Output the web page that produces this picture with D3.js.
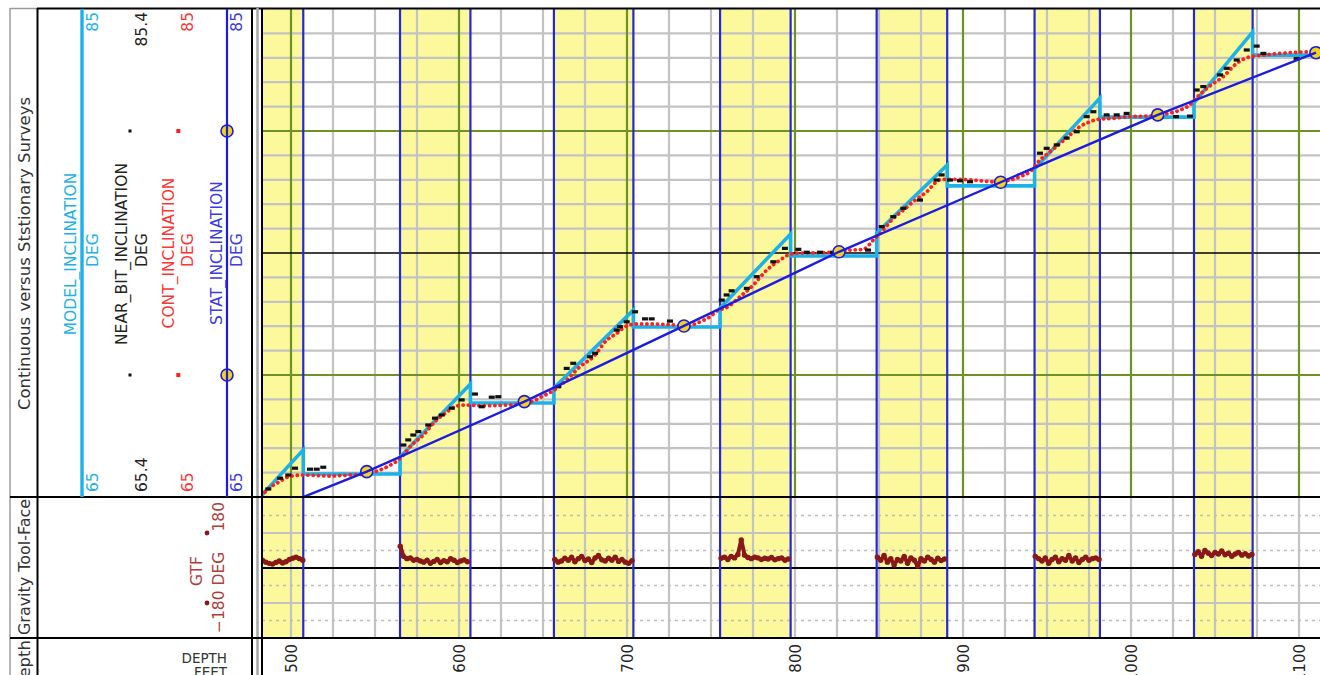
<!DOCTYPE html>
<html>
<head>
<meta charset="utf-8">
<script src="https://cdn.jsdelivr.net/npm/d3@7"></script>
<style>
  html, body { margin: 0; padding: 0; background: #fff; overflow: hidden; }
  svg { display: block; font-family: "DejaVu Sans", sans-serif; }
</style>
</head>
<body>
<svg id="log" width="1320" height="675"></svg>
<script>
// ---- Depth axis (feet) ----
const depthTicks = [500, 600, 700, 800, 900, 1000, 1100];

// ---- Slide intervals (yellow bands), depth in feet ----
const slideStart = [475, 564.9, 656.5, 755.4, 848.6, 942.6, 1037.5];
const slideEnd   = [507.3, 606.8, 703.8, 797.4, 890.6, 981.5, 1072.4];

// ---- Stationary surveys ----
const statDepth = [451, 545.1, 638.9, 733.9, 826.2, 922.4, 1015.9, 1110.1];
const statInc   = [63.45, 66.04, 68.91, 72.01, 75.05, 77.90, 80.66, 83.21];

// ---- Model inclination (vertices) ----
const modelDepth = [480, 507.3, 507.3, 564.9, 564.9, 606.8, 606.8, 656.5, 656.5, 703.8, 703.8,
  755.4, 755.4, 797.4, 797.4, 848.6, 848.6, 890.6, 890.6, 942.6, 942.6, 981.5, 981.5,
  1037.5, 1037.5, 1072.4, 1072.4, 1125];
const modelInc = [64.88, 66.93, 65.94, 65.94, 66.64, 69.63, 68.85, 68.85, 69.47, 72.66, 71.97,
  71.97, 72.75, 75.78, 74.88, 74.88, 75.82, 78.61, 77.75, 77.75, 78.44, 81.35, 80.57,
  80.57, 81.15, 84.06, 83.11, 83.11];

// ---- Continuous inclination ----
const contDepth = [484.5, 488.7, 493, 498.2, 506.5, 515, 523.2, 535, 544, 553, 559, 563.1,
  565.9, 571.8, 578.8, 585.7, 591.7, 597.6, 603.6, 613.5, 629.3, 643.3, 649.2, 655.2,
  664.1, 672.0, 680.0, 688.0, 693.9, 699.8, 705.8, 715.7, 727.6, 735.5, 743.5, 749.4, 754.3,
  758.3, 767.3, 775.2, 783.2, 791.1, 796.0, 801.0, 812.9, 822.8, 832.7, 840.7,
  846.6, 851.6, 858.5, 864.5, 870.4, 878.4, 886.3, 892.3, 904.2, 918.0, 928.0, 933.9, 939.9,
  945.8, 951.8, 957.7, 963.7, 969.6, 975.6, 980.5, 989.5, 999.4, 1009.3, 1023.2, 1029.2, 1035.1,
  1039.1, 1047.0, 1054.9, 1062.9, 1070.8, 1078.8, 1094.6, 1108.5];
const contInc = [65.20, 65.45, 65.62, 65.82, 65.90, 65.88, 65.86, 65.90, 65.94, 66.11, 66.30, 66.48,
  66.65, 67.13, 67.54, 68.09, 68.43, 68.70, 68.77, 68.74, 68.77, 68.91, 69.11, 69.32,
  69.80, 70.34, 70.75, 71.43, 71.71, 72.01, 72.09, 72.09, 72.05, 72.01, 72.18, 72.39, 72.66,
  72.73, 73.21, 73.69, 74.30, 74.71, 74.92, 74.99, 75.01, 75.03, 75.12, 75.15,
  75.53, 75.87, 76.42, 76.76, 77.10, 77.51, 78.00, 78.02, 78.00, 77.92, 77.99, 78.13, 78.33,
  78.81, 79.15, 79.49, 79.84, 80.18, 80.38, 80.48, 80.52, 80.59, 80.61, 80.73, 80.86, 81.07,
  81.37, 81.85, 82.23, 82.77, 83.04, 83.11, 83.21, 83.25];

// ---- Near-bit inclination (scale 65.4 - 85.4) ----
const nbDepth = [486.5, 493.5, 498.4, 502.4, 511.3, 515.3, 519.2,
  566.9, 569.8, 572.8, 575.8, 581.7, 585.7, 589.7, 595.7, 601.6, 609.5, 613.5, 619.5, 623.4,
  659.1, 664.1, 668.0, 678.0, 681.0, 693.9, 695.8, 699.8, 704.8, 710.7, 714.7, 725.6,
  756.4, 759.3, 762.3, 771.3, 777.2, 787.1, 794.0, 802.0, 807.0, 814.9, 822.6,
  843.5, 851.6, 858.5, 864.5, 874.4, 884.3, 887.3, 892.3, 898.2, 904.2,
  945.8, 949.8, 955.8, 961.7, 967.7, 973.6, 977.6, 985.5, 991.5, 997.4,
  1026.8, 1035.1, 1039.1, 1043.0, 1053.0, 1057.0, 1062.9, 1068.9, 1074.8, 1078.8, 1098.6];
const nbInc = [65.73, 66.17, 66.30, 66.58, 66.54, 66.54, 66.62,
  67.53, 67.74, 67.94, 68.08, 68.35, 68.63, 68.76, 69.04, 69.38, 69.62, 69.10, 69.49, 69.51,
  69.92, 70.67, 70.88, 71.15, 71.29, 72.24, 72.38, 72.58, 72.99, 72.70, 72.70, 72.61,
  73.47, 73.68, 73.85, 73.95, 74.43, 75.04, 75.59, 75.55, 75.43, 75.43, 75.43,
  75.52, 76.48, 76.89, 77.23, 77.57, 78.39, 78.60, 78.39, 78.36, 78.32,
  79.49, 79.69, 79.83, 80.11, 80.37, 80.99, 81.19, 81.06, 81.06, 81.12,
  80.99, 81.01, 82.08, 82.22, 82.70, 82.97, 83.31, 83.72, 83.88, 83.58, 83.37];

// ---- Gravity tool-face while sliding, sampled every 2 ft ----
const gtfStep = 2;
const gtfStart = [483, 565, 657, 756, 849, 943, 1038];
const gtfValues = [
  [20, 15, 12, 10, 14, 18, 13, 16, 22, 25, 28, 24, 20],
  [56, 30, 24, 26, 20, 22, 18, 15, 20, 12, 17, 22, 14, 19, 16, 24, 20, 14, 18, 21, 16],
  [22, 15, 18, 25, 20, 28, 16, 24, 30, 19, 23, 14, 26, 32, 21, 18, 25, 20, 28, 17, 22, 15, 12, 19],
  [25, 28, 22, 30, 26, 35, 72, 33, 27, 24, 28, 26, 22, 25, 23, 27, 21, 24, 26, 20, 23],
  [28, 20, 32, 15, 24, 8, 22, 18, 30, 12, 26, 20, 5, 24, 18, 28, 22, 15, 25, 19, 23],
  [30, 24, 18, 26, 12, 22, 28, 16, 24, 20, 32, 18, 26, 14, 22, 28, 20, 24, 26, 22],
  [35, 42, 30, 45, 38, 32, 40, 36, 44, 34, 38, 30, 36, 40, 33, 37, 31, 35]
];

// ---- Layout ----
const PL = 262, PR = 1320, TOP = 9, MID = 497, LOW = 638, BOT = 675;

const x = d3.scaleLinear().domain([500, 1100]).range([291, 1299]);
const yInc = d3.scaleLinear().domain([65, 85]).range([MID, TOP]);
const yNb = d3.scaleLinear().domain([65.4, 85.4]).range([MID, TOP]);
const yGtf = d3.scaleLinear().domain([-180, 180]).range([LOW, MID + 1]);

const C = {
  yellow: "#fcf99c", grid: "#c3c3c3", green: "#6e9324", blue: "#2626dc",
  cyan: "#1cb2e8", red: "#ff1f1f", black: "#111", gtf: "#8a1818", gtfText: "#b03c3c",
  statBlue: "#1c1ce0", marker: "#f4d21a"
};

const svg = d3.select("#log");
svg.append("rect").attr("width", 1320).attr("height", 675).attr("fill", "#fff");

const defs = svg.append("defs");
function clip(id, y0, y1) {
  defs.append("clipPath").attr("id", id).append("rect")
    .attr("x", PL).attr("y", y0).attr("width", PR - PL).attr("height", y1 - y0);
}
clip("cTrack", TOP, LOW);
clip("cInc", TOP, MID);
clip("cGtf", MID, LOW);
clip("cDepth", LOW, BOT);

// ---- Slide bands ----
const bands = svg.append("g").attr("clip-path", "url(#cTrack)");
bands.selectAll("rect").data(slideStart).join("rect")
  .attr("x", (d) => x(d)).attr("y", TOP)
  .attr("width", (d, i) => x(slideEnd[i]) - x(d)).attr("height", LOW - TOP)
  .attr("fill", C.yellow);

// ---- Grid ----
const depthGrid = d3.range(475, 1126, 25);
const gInc = svg.append("g").attr("clip-path", "url(#cInc)");
const gGtf = svg.append("g").attr("clip-path", "url(#cGtf)");

gInc.selectAll("line.vmin").data(depthGrid.filter((d) => d % 100 !== 0)).join("line")
  .attr("x1", (d) => x(d)).attr("x2", (d) => x(d)).attr("y1", TOP).attr("y2", MID)
  .attr("stroke", C.grid).attr("stroke-width", 2.2);
const incGrid = d3.range(66, 85);
gInc.selectAll("line.hmin").data(incGrid.filter((v) => v % 5 !== 0)).join("line")
  .attr("x1", PL).attr("x2", PR).attr("y1", (v) => yInc(v)).attr("y2", (v) => yInc(v))
  .attr("stroke", C.grid).attr("stroke-width", 2.2);
gInc.selectAll("line.vmaj").data(depthGrid.filter((d) => d % 100 === 0)).join("line")
  .attr("x1", (d) => x(d)).attr("x2", (d) => x(d)).attr("y1", TOP).attr("y2", MID)
  .attr("stroke", C.green).attr("stroke-width", 2.2);
gInc.selectAll("line.hmaj").data([70, 80]).join("line")
  .attr("x1", PL).attr("x2", PR).attr("y1", (v) => yInc(v)).attr("y2", (v) => yInc(v))
  .attr("stroke", C.green).attr("stroke-width", 2.2);
gInc.append("line").attr("x1", PL).attr("x2", PR)
  .attr("y1", yInc(75)).attr("y2", yInc(75)).attr("stroke", "#000").attr("stroke-width", 1.6);

gGtf.selectAll("line.v").data(depthGrid).join("line")
  .attr("x1", (d) => x(d)).attr("x2", (d) => x(d)).attr("y1", MID).attr("y2", LOW)
  .attr("stroke", C.grid).attr("stroke-width", 2.2);
gGtf.selectAll("line.dot").data([-135, -45, 45, 135]).join("line")
  .attr("x1", PL).attr("x2", PR).attr("y1", (v) => yGtf(v)).attr("y2", (v) => yGtf(v))
  .attr("stroke", "#bdbdbd").attr("stroke-width", 1.5).attr("stroke-dasharray", "3,4");
gGtf.selectAll("line.sol").data([-90, 90]).join("line")
  .attr("x1", PL).attr("x2", PR).attr("y1", (v) => yGtf(v)).attr("y2", (v) => yGtf(v))
  .attr("stroke", C.grid).attr("stroke-width", 2.2);
gGtf.append("line").attr("x1", PL).attr("x2", PR)
  .attr("y1", yGtf(0)).attr("y2", yGtf(0)).attr("stroke", "#000").attr("stroke-width", 2);

// ---- Slide boundaries ----
const edges = slideStart.concat(slideEnd);
svg.append("g").attr("clip-path", "url(#cTrack)")
  .selectAll("line").data(edges).join("line")
  .attr("x1", (d) => x(d)).attr("x2", (d) => x(d)).attr("y1", TOP).attr("y2", LOW)
  .attr("stroke", C.blue).attr("stroke-width", 2.2);

// ---- Inclination curves ----
const curves = svg.append("g").attr("clip-path", "url(#cInc)");

const modelLine = d3.line().x((i) => x(modelDepth[i])).y((i) => yInc(modelInc[i]));
curves.append("path").attr("d", modelLine(d3.range(modelDepth.length)))
  .attr("fill", "none").attr("stroke", C.cyan).attr("stroke-width", 3.6)
  .attr("stroke-linejoin", "miter");

const contLine = d3.line().x((i) => x(contDepth[i])).y((i) => yInc(contInc[i]))
  .curve(d3.curveMonotoneX);
curves.append("path").attr("d", contLine(d3.range(contDepth.length)))
  .attr("fill", "none").attr("stroke", C.red).attr("stroke-width", 3.8)
  .attr("stroke-linecap", "round").attr("stroke-dasharray", "0.1,5.2");

curves.selectAll("rect.nb").data(d3.range(nbDepth.length)).join("rect")
  .attr("x", (i) => x(nbDepth[i]) - 3).attr("y", (i) => yNb(nbInc[i]) - 1.6)
  .attr("width", 6).attr("height", 3.2).attr("fill", C.black);

const statLine = d3.line().x((i) => x(statDepth[i])).y((i) => yInc(statInc[i]));
curves.selectAll("circle.stat").data(d3.range(statDepth.length)).join("circle")
  .attr("cx", (i) => x(statDepth[i])).attr("cy", (i) => yInc(statInc[i])).attr("r", 6)
  .attr("fill", C.marker).attr("stroke", C.statBlue).attr("stroke-width", 1.6);
curves.append("path").attr("d", statLine(d3.range(statDepth.length)))
  .attr("fill", "none").attr("stroke", C.statBlue).attr("stroke-width", 2.4);

// ---- GTF curve ----
const gtfG = svg.append("g").attr("clip-path", "url(#cGtf)");
gtfValues.forEach((vals, k) => {
  const line = d3.line().x((v, i) => x(gtfStart[k] + i * gtfStep)).y((v) => yGtf(v));
  gtfG.append("path").attr("d", line(vals)).attr("fill", "none")
    .attr("stroke", C.gtf).attr("stroke-width", 4).attr("stroke-linejoin", "round");
  gtfG.selectAll(null).data(vals).join("circle")
    .attr("cx", (v, i) => x(gtfStart[k] + i * gtfStep)).attr("cy", (v) => yGtf(v))
    .attr("r", 2.7).attr("fill", C.gtf);
});

// ---- Depth labels ----
svg.append("g").attr("clip-path", "url(#cDepth)")
  .selectAll("text").data(depthTicks).join("text")
  .attr("transform", (d) => `translate(${x(d) + 6},644) rotate(-90)`)
  .attr("text-anchor", "end").attr("font-size", 15).attr("fill", "#222")
  .text((d) => d);

// ---- Frame ----
const frame = svg.append("g");
function ln(x1, y1, x2, y2, stroke, w) {
  frame.append("line").attr("x1", x1).attr("y1", y1).attr("x2", x2).attr("y2", y2)
    .attr("stroke", stroke).attr("stroke-width", w);
}
ln(10, 8, 10, BOT, "#9c9c9c", 1.5);
ln(10, 8.5, 37, 8.5, "#9c9c9c", 1.5);
ln(37, 8.5, PR, 8.5, "#000", 2);
ln(37.5, 8, 37.5, BOT, "#000", 2);
ln(252, 8, 252, BOT, "#000", 2);
ln(257.5, 8, 257.5, BOT, "#a8a8a8", 2.5);
ln(PL, 8, PL, BOT, "#000", 2);
ln(10, MID, PR, MID, "#000", 2);
ln(10, LOW, PR, LOW, "#000", 2);

// ---- Header ----
const head = svg.append("g");
function vtext(xb, y, anchor, size, fill, str) {
  return head.append("text")
    .attr("transform", `translate(${xb},${y}) rotate(-90)`)
    .attr("text-anchor", anchor).attr("font-size", size).attr("fill", fill).text(str);
}
vtext(30, 253.5, "middle", 16.5, "#333", "Continuous versus Ststionary Surveys");
vtext(30, 567, "middle", 16.5, "#333", "Gravity Tool-Face").attr("textLength", 136)
  .attr("lengthAdjust", "spacingAndGlyphs");
vtext(30, 640, "end", 16.5, "#333", "Depth");

// curve legend entries
head.append("line").attr("x1", 82).attr("x2", 82).attr("y1", TOP).attr("y2", MID)
  .attr("stroke", C.cyan).attr("stroke-width", 3.4);
vtext(76, 254, "middle", 15.5, C.cyan, "MODEL_INCLINATION");
vtext(98, 250, "middle", 15.5, C.cyan, "DEG");
vtext(98, 12, "end", 15.5, C.cyan, "85");
vtext(98, 492, "start", 15.5, C.cyan, "65");

vtext(126.5, 254, "middle", 15.5, "#222", "NEAR_BIT_INCLINATION");
vtext(147, 250, "middle", 15.5, "#222", "DEG");
vtext(147, 12, "end", 15.5, "#222", "85.4");
vtext(147, 492, "start", 15.5, "#222", "65.4");
head.selectAll("rect.nbk").data([70, 80]).join("rect")
  .attr("x", 128.5).attr("y", (v) => yInc(v) - 1.5).attr("width", 3).attr("height", 3)
  .attr("fill", C.black);

vtext(174, 253, "middle", 15.5, "#ff3434", "CONT_INCLINATION");
vtext(193, 250, "middle", 15.5, "#ff3434", "DEG");
vtext(193, 12, "end", 15.5, "#ff3434", "85");
vtext(193, 492, "start", 15.5, "#ff3434", "65");
head.selectAll("rect.rk").data([70, 80]).join("rect")
  .attr("x", 176.3).attr("y", (v) => yInc(v) - 2).attr("width", 4).attr("height", 4)
  .attr("fill", C.red);

head.selectAll("circle.sk").data([70, 80]).join("circle")
  .attr("cx", 227).attr("cy", (v) => yInc(v)).attr("r", 6)
  .attr("fill", C.marker).attr("stroke", C.statBlue).attr("stroke-width", 1.6);
head.append("line").attr("x1", 227).attr("x2", 227).attr("y1", TOP).attr("y2", MID)
  .attr("stroke", C.statBlue).attr("stroke-width", 2.2);
vtext(221.5, 253, "middle", 15.5, "#3a3ae6", "STAT_INCLINATION");
vtext(242, 250, "middle", 15.5, "#3a3ae6", "DEG");
vtext(242, 12, "end", 15.5, "#3a3ae6", "85");
vtext(242, 492, "start", 15.5, "#3a3ae6", "65");

// GTF legend
vtext(202, 571, "middle", 15.5, C.gtfText, "GTF");
vtext(224, 502, "end", 15.5, C.gtfText, "180");
vtext(224, 633, "start", 15.5, C.gtfText, "\u2212180 DEG");
head.selectAll("circle.gk").data([-90, 90]).join("circle")
  .attr("cx", 207).attr("cy", (v) => yGtf(v)).attr("r", 2.4).attr("fill", C.gtf);

// depth track header
head.append("text").attr("x", 227).attr("y", 663).attr("text-anchor", "end")
  .attr("font-size", 13.5).attr("fill", "#333").text("DEPTH");
head.append("text").attr("x", 227).attr("y", 677).attr("text-anchor", "end")
  .attr("font-size", 13.5).attr("fill", "#333").text("FEET");
</script>
</body>
</html>
